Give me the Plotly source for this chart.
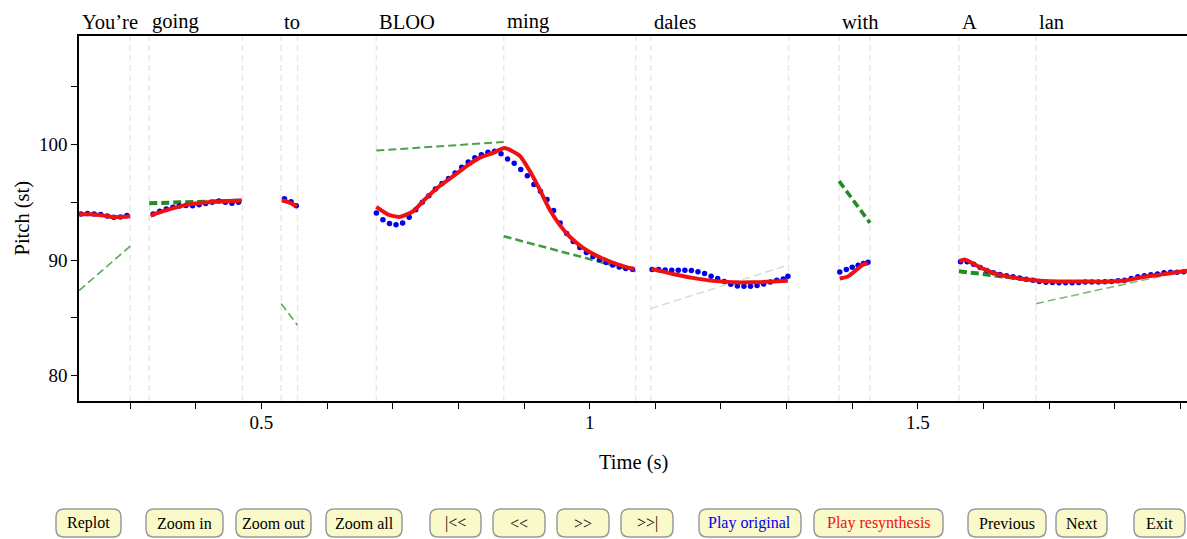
import plotly.graph_objects as go

# ---------------- data ----------------
words = ["You’re", "going", "to", "BLOO", "ming", "dales", "with", "A", "lan"]
word_starts = [0.222, 0.329, 0.530, 0.675, 0.869, 1.093, 1.380, 1.5625, 1.680]
boundaries = [0.300, 0.329, 0.471, 0.530, 0.555, 0.675, 0.869, 1.070, 1.093,
              1.303, 1.380, 1.427, 1.5625, 1.680]

# original pitch (blue dots), one list per voiced chunk
orig_t = [
    [0.225, 0.235, 0.245, 0.255, 0.265, 0.275, 0.285, 0.295],
    [0.335, 0.345, 0.355, 0.365, 0.375, 0.385, 0.395, 0.405, 0.415, 0.425,
     0.435, 0.445, 0.455, 0.465],
    [0.535, 0.545, 0.553],
    [0.675, 0.685, 0.695, 0.705, 0.715, 0.725, 0.735, 0.745, 0.755, 0.765,
     0.775, 0.785, 0.795, 0.805, 0.815, 0.825, 0.835, 0.845, 0.855, 0.865,
     0.875, 0.885, 0.895, 0.905, 0.915, 0.925, 0.935, 0.945, 0.955, 0.965,
     0.975, 0.985, 0.995, 1.005, 1.015, 1.025, 1.035, 1.045, 1.055, 1.065],
    [1.095, 1.105, 1.115, 1.125, 1.135, 1.145, 1.155, 1.165, 1.175, 1.185,
     1.195, 1.205, 1.215, 1.225, 1.235, 1.245, 1.255, 1.265, 1.275, 1.285,
     1.295, 1.302],
    [1.381, 1.391, 1.400, 1.409, 1.417, 1.424],
    [1.565, 1.575, 1.585, 1.595, 1.605, 1.615, 1.625, 1.635, 1.645, 1.655,
     1.665, 1.675, 1.685, 1.695, 1.705, 1.715, 1.725, 1.735, 1.745, 1.755,
     1.765, 1.775, 1.785, 1.795, 1.805, 1.815, 1.825, 1.835, 1.845, 1.855,
     1.865, 1.875, 1.885, 1.895, 1.905],
]
orig_v = [
    [94.0, 94.03, 94.0, 93.95, 93.82, 93.7, 93.72, 93.86],
    [94.0, 94.23, 94.43, 94.57, 94.68, 94.72, 94.7, 94.8, 94.9, 95.0,
     95.12, 95.0, 94.92, 95.0],
    [95.3, 95.05, 94.7],
    [94.08, 93.5, 93.16, 93.05, 93.2, 93.7, 94.35, 95.0, 95.58, 96.15,
     96.63, 97.07, 97.53, 98.03, 98.5, 98.85, 99.13, 99.33, 99.42, 99.2,
     98.75, 98.38, 97.85, 97.3, 96.55, 95.95, 95.25, 94.3, 93.2, 92.3,
     91.6, 91.1, 90.65, 90.32, 90.02, 89.8, 89.58, 89.4, 89.28, 89.2],
    [89.18, 89.18, 89.15, 89.13, 89.13, 89.13, 89.1, 89.0, 88.83, 88.6,
     88.4, 88.15, 87.9, 87.75, 87.73, 87.73, 87.8, 87.93, 88.1, 88.25,
     88.37, 88.6],
    [88.97, 89.18, 89.38, 89.55, 89.7, 89.81],
    [89.85, 89.85, 89.65, 89.35, 89.1, 88.9, 88.75, 88.65, 88.55, 88.45,
     88.35, 88.25, 88.15, 88.08, 88.05, 88.03, 88.03, 88.03, 88.05, 88.1,
     88.1, 88.1, 88.12, 88.15, 88.2, 88.25, 88.4, 88.55, 88.65, 88.72,
     88.8, 88.9, 88.95, 88.95, 89.0],
]

# resynthesised pitch (red line), one list per voiced chunk
resyn_t = [
    [0.215, 0.240, 0.260, 0.275, 0.290, 0.300],
    [0.331, 0.347, 0.367, 0.388, 0.418, 0.444, 0.470],
    [0.531, 0.542, 0.554],
    [0.675, 0.693, 0.710, 0.731, 0.751, 0.771, 0.792, 0.812, 0.832, 0.853,
     0.870, 0.893, 0.909, 0.924, 0.939, 0.954, 0.970, 0.990, 1.010, 1.030,
     1.051, 1.068],
    [1.094, 1.127, 1.157, 1.188, 1.218, 1.249, 1.279, 1.302],
    [1.381, 1.394, 1.407, 1.416, 1.424],
    [1.563, 1.572, 1.584, 1.600, 1.615, 1.635, 1.660, 1.686, 1.716, 1.752,
     1.793, 1.818, 1.843, 1.869, 1.894, 1.915],
]
resyn_v = [
    [93.97, 93.97, 93.85, 93.72, 93.75, 93.8],
    [93.85, 94.17, 94.52, 94.8, 95.0, 95.1, 95.15],
    [95.18, 95.0, 94.66],
    [94.6, 93.94, 93.74, 94.23, 95.38, 96.39, 97.26, 98.12, 98.85, 99.28,
     99.71, 99.05, 97.69, 96.1, 94.37, 93.07, 92.0, 91.05, 90.39, 89.9,
     89.47, 89.2],
    [89.24, 88.8, 88.46, 88.2, 88.08, 88.08, 88.14, 88.2],
    [88.4, 88.6, 89.18, 89.61, 89.7],
    [89.9, 90.04, 89.7, 89.24, 88.89, 88.6, 88.37, 88.22, 88.14, 88.14,
     88.14, 88.25, 88.54, 88.74, 88.94, 89.12],
]

# pitch targets (green dashed lines)
target_t0 = [0.222, 0.329, 0.530, 0.675, 0.869, 1.093, 1.380, 1.5625, 1.680]
target_t1 = [0.300, 0.471, 0.555, 0.869, 1.070, 1.303, 1.427, 1.680, 1.910]
target_v0 = [87.36, 94.92, 86.23, 99.48, 92.06, 85.8, 96.83, 89.03, 86.23]
target_v1 = [91.2, 95.15, 84.36, 100.23, 89.03, 89.58, 93.22, 88.25, 89.1]

# ---------------- styles ----------------
target_widths = [1.6, 4.0, 1.6, 2.0, 2.6, 1.6, 3.6, 4.0, 1.6]
target_colors = ["rgba(34,139,34,0.75)", "#238b23", "rgba(34,139,34,0.75)",
                 "rgba(34,139,34,0.8)", "rgba(34,139,34,0.85)",
                 "rgba(34,139,34,0.22)", "#238b23", "#238b23",
                 "rgba(34,139,34,0.6)"]

FONT = "Liberation Serif, Times New Roman, serif"
X_RANGE = [0.222, 1.910]
Y_RANGE = [77.8, 109.4]
ML, MR, MT, MB = 79, 0, 36, 138
W, H = 1187, 539
PW, PH = W - ML - MR, H - MT - MB

fig = go.Figure()

# gridlines at segment boundaries
for b in boundaries:
    fig.add_shape(type="line", xref="x", yref="paper", x0=b, x1=b, y0=0, y1=1,
                  line=dict(color="#e8e8e8", width=1.5, dash="6px,4px"),
                  layer="below")

# targets
for i in range(len(target_t0)):
    fig.add_trace(go.Scatter(
        x=[target_t0[i], target_t1[i]], y=[target_v0[i], target_v1[i]],
        mode="lines", line=dict(color=target_colors[i], width=target_widths[i],
                                dash="8px,4px"),
        hoverinfo="skip"))

# original (blue dots)
ox, oy = [], []
for ts, vs in zip(orig_t, orig_v):
    ox += ts + [None]
    oy += vs + [None]
fig.add_trace(go.Scatter(x=ox, y=oy, mode="markers",
                         marker=dict(color="#0000ee", size=5.5)))

# resynthesis (red line)
rx, ry = [], []
for ts, vs in zip(resyn_t, resyn_v):
    rx += ts + [None]
    ry += vs + [None]
fig.add_trace(go.Scatter(x=rx, y=ry, mode="lines", connectgaps=False,
                         line=dict(color="#ee1111", width=4, shape="spline",
                                   smoothing=0.6)))

annotations = []
for w, s in zip(words, word_starts):
    annotations.append(dict(x=s, y=(H - MB - 22) / PH, xref="x", yref="paper",
                            text=w, showarrow=False, xanchor="left",
                            yanchor="middle", xshift=1,
                            font=dict(family=FONT, size=20.5, color="black")))

annotations.append(dict(x=0.5, y=-(462 - (H - MB)) / PH, xref="paper", yref="paper",
                        text="Time (s)", showarrow=False, xanchor="center",
                        yanchor="middle", font=dict(family=FONT, size=20.5)))
annotations.append(dict(x=(22 - ML) / PW, y=0.5, xref="paper", yref="paper",
                        text="Pitch (st)", showarrow=False, textangle=-90,
                        xanchor="center", yanchor="middle",
                        font=dict(family=FONT, size=20.5)))

# buttons (UI decoration)
button_labels = ["Replot", "Zoom in", "Zoom out", "Zoom all", "|<<", "<<", ">>",
                 ">>|", "Play original", "Play resynthesis", "Previous", "Next",
                 "Exit"]
button_text_colors = ["black"] * 8 + ["#0000ee", "#ee1111"] + ["black"] * 3
button_px = [(56, 121), (146, 223), (236, 311), (326, 402), (430, 481),
             (493, 545), (557, 609), (621, 673), (699, 801), (814, 943),
             (968, 1046), (1056, 1107), (1134, 1185)]
BY0, BY1, R = 509, 537, 8


def px(x):
    return (x - ML) / PW


def py(y):
    return (H - MB - y) / PH


for (x0, x1), lab, col in zip(button_px, button_labels, button_text_colors):
    y0, y1 = BY0, BY1
    path = (f"M {px(x0 + R)},{py(y0)} L {px(x1 - R)},{py(y0)} "
            f"Q {px(x1)},{py(y0)} {px(x1)},{py(y0 + R)} "
            f"L {px(x1)},{py(y1 - R)} Q {px(x1)},{py(y1)} {px(x1 - R)},{py(y1)} "
            f"L {px(x0 + R)},{py(y1)} Q {px(x0)},{py(y1)} {px(x0)},{py(y1 - R)} "
            f"L {px(x0)},{py(y0 + R)} Q {px(x0)},{py(y0)} {px(x0 + R)},{py(y0)} Z")
    fig.add_shape(type="path", path=path, xref="paper", yref="paper",
                  fillcolor="#f9f9c9", line=dict(color="#9a9a9a", width=1.5))
    annotations.append(dict(x=px((x0 + x1) / 2), y=py((y0 + y1) / 2),
                            xref="paper", yref="paper", text=lab,
                            showarrow=False, xanchor="center", yanchor="middle",
                            font=dict(family=FONT, size=16, color=col)))

fig.update_layout(
    width=W, height=H,
    margin=dict(l=ML, r=MR, t=MT, b=MB),
    plot_bgcolor="white", paper_bgcolor="white",
    showlegend=False,
    font=dict(family=FONT, color="black"),
    annotations=annotations,
    xaxis=dict(range=X_RANGE, showgrid=False, zeroline=False,
               showline=True, linecolor="black", linewidth=1.5, mirror=True,
               ticks="outside", ticklen=6, tickcolor="black", tickwidth=1,
               tick0=0, dtick=0.5, tickfont=dict(family=FONT, size=19),
               ticklabelstandoff=-3,
               minor=dict(dtick=0.1, tick0=0, ticks="outside", ticklen=6,
                          tickcolor="black", showgrid=False)),
    yaxis=dict(range=Y_RANGE, showgrid=False, zeroline=False,
               showline=True, linecolor="black", linewidth=1.5,
               ticks="outside", ticklen=6, tickcolor="black", tickwidth=1,
               tick0=0, dtick=10, tickfont=dict(family=FONT, size=19),
               minor=dict(dtick=5, tick0=0, ticks="outside", ticklen=6,
                          tickcolor="black", showgrid=False)),
)

fig.write_html(
    "out.html",
    config={"displayModeBar": False},
    post_script="document.body.style.margin='0';"
                "document.body.style.overflow='hidden';")
